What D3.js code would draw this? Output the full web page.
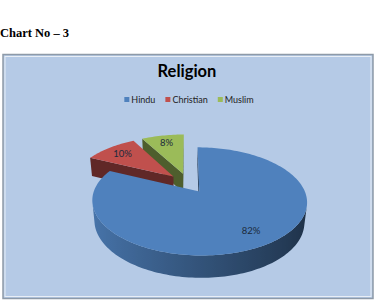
<!DOCTYPE html>
<html><head><meta charset="utf-8">
<script src="https://cdn.jsdelivr.net/npm/d3@7"></script>
<style>body{margin:0;background:#fff}svg{display:block}</style>
</head><body><svg width="382" height="300"></svg>
<script>
const categories = ["Hindu", "Christian", "Muslim"];
const values = [82, 10, 8];
const labels = ["82%", "10%", "8%"];
const colors = ["#4f81bd", "#c0504d", "#9bbb59"];

const svg = d3.select("svg");
const defs = svg.append("defs");

// caption above the chart
svg.append("text").attr("x", 0).attr("y", 37)
    .attr("font-family", "Liberation Serif").attr("font-weight", "bold").attr("font-size", 12.5)
    .text("Chart No \u2013 3");

// chart area box
svg.append("rect").attr("x", 3).attr("y", 54.5).attr("width", 370).attr("height", 244)
    .attr("fill", "#b5cae6").attr("stroke", "#8e9aa8").attr("stroke-width", 1.5);
svg.append("rect").attr("x", 5).attr("y", 56.5).attr("width", 366).attr("height", 240)
    .attr("fill", "none").attr("stroke", "#e8eef6").attr("stroke-width", 1);

svg.append("text").attr("x", 187).attr("y", 77).attr("text-anchor", "middle")
    .attr("font-family", "Lato").attr("font-weight", "bold").attr("font-size", 16.5)
    .text("Religion");

// legend, laid out left to right and centred
const legend = svg.append("g").attr("font-family", "Lato").attr("font-size", 9).attr("fill", "#222");
let lx = 0;
categories.forEach((c, i) => {
    const g = legend.append("g");
    g.append("rect").attr("width", 5).attr("height", 5).attr("y", -3).attr("fill", colors[i]);
    const t = g.append("text").attr("x", 7).attr("dy", "0.33em").text(c);
    const w = 7 + t.node().getComputedTextLength();
    g.attr("transform", `translate(${lx},0)`);
    lx += w + 10;
});
legend.attr("transform", `translate(${189 - (lx - 10) / 2},100)`);

// simple perspective camera for the 3D pie
const cx = 188, cy = 183, f = 508, D = 4.96, tilt = 28.7 * Math.PI / 180;
const depth = 0.22, explode = 0.2;
const sinT = Math.sin(tilt), cosT = Math.cos(tilt);
const cam = [0, D * sinT, -D * cosT];

function proj(p) {
    const [X, Y, Z] = p;
    const dc = Z * cosT - Y * sinT, yc = Y * cosT + Z * sinT;
    return [cx + f * X / (D + dc), cy - f * yc / (D + dc)];
}
function facing(n, p) {
    return n[0] * (cam[0] - p[0]) + n[1] * (cam[1] - p[1]) + n[2] * (cam[2] - p[2]) > 0;
}
function shade(col, k) {
    const c = d3.rgb(col);
    return d3.rgb(c.r * k, c.g * k, c.b * k).toString();
}
const line = d3.line();
const poly = pts => line(pts.map(proj)) + "Z";

const pie = d3.pie().sort(null).value(d => d);
const arcs = pie(values).map((d, i) => {
    const mid = (d.startAngle + d.endAngle) / 2;
    return { ...d, i, ox: explode * Math.sin(mid), oz: explode * Math.cos(mid), mid };
});

const pieG = svg.append("g");
// far slices first
arcs.slice().sort((a, b) => b.oz - a.oz).forEach(d => {
    const g = pieG.append("g");
    const col = colors[d.i];
    const at = (a, r, y) => [d.ox + r * Math.sin(a), y, d.oz + r * Math.cos(a)];
    const a0 = d.startAngle, a1 = d.endAngle;

    // cut faces
    const cuts = [
        { a: a0, n: [-Math.cos(a0), 0, Math.sin(a0)] },
        { a: a1, n: [Math.cos(a1), 0, -Math.sin(a1)] }
    ];
    cuts.forEach(c => {
        const pts = [at(c.a, 0, 0), at(c.a, 1, 0), at(c.a, 1, -depth), at(c.a, 0, -depth)];
        if (facing(c.n, at(c.a, 0.5, -depth / 2)))
            g.append("path").attr("d", poly(pts)).attr("fill", shade(col, 0.5));
    });

    // outer wall: visible angles only, shaded with a horizontal gradient
    const steps = Math.max(4, Math.ceil((a1 - a0) / (Math.PI / 120)));
    const vis = d3.range(steps + 1).map(s => a0 + (a1 - a0) * s / steps)
        .filter(t => facing([Math.sin(t), 0, Math.cos(t)], at(t, 1, -depth / 2)));
    if (vis.length > 1) {
        const topE = vis.map(t => at(t, 1, 0));
        const botE = vis.slice().reverse().map(t => at(t, 1, -depth));
        const xs = vis.map(t => proj(at(t, 1, 0))[0]);
        const x0 = d3.min(xs), x1 = d3.max(xs);
        const id = "wall" + d.i;
        const grad = defs.append("linearGradient").attr("id", id)
            .attr("gradientUnits", "userSpaceOnUse")
            .attr("x1", x0).attr("x2", x1).attr("y1", 0).attr("y2", 0);
        vis.map((t, j) => ({ o: (xs[j] - x0) / Math.max(1, x1 - x0), k: 0.64 - 0.27 * Math.sin(t) }))
            .sort((a, b) => a.o - b.o)
            .forEach(s => grad.append("stop").attr("offset", s.o).attr("stop-color", shade(col, s.k)));
        g.append("path").attr("d", poly(topE.concat(botE))).attr("fill", `url(#${id})`);
    }

    // top face
    const top = [at(a0, 0, 0)];
    for (let s = 0; s <= steps; s++) top.push(at(a0 + (a1 - a0) * s / steps, 1, 0));
    g.append("path").attr("d", poly(top)).attr("fill", col);
});

// data labels
svg.append("g").attr("font-family", "Lato").attr("font-size", 9.5).attr("fill", "#1b2a3c")
    .attr("text-anchor", "middle")
    .selectAll("text").data(arcs).join("text")
    .attr("transform", d => {
        const p = proj([d.ox + 0.78 * Math.sin(d.mid), 0, d.oz + 0.78 * Math.cos(d.mid)]);
        return `translate(${p[0]},${p[1]})`;
    })
    .attr("dy", "0.35em")
    .text(d => labels[d.i]);
</script>
</body></html>
